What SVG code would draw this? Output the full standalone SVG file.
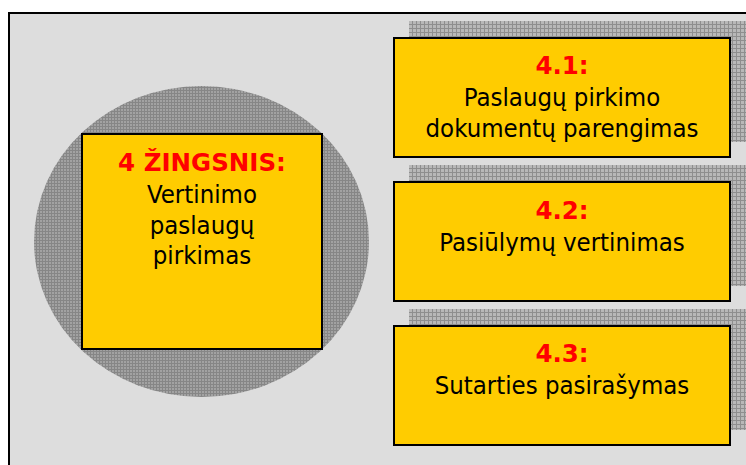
<svg xmlns="http://www.w3.org/2000/svg" width="746" height="465" viewBox="0 0 746 465">
<defs>
<pattern id="fine" width="3" height="3" patternUnits="userSpaceOnUse">
<rect width="3" height="3" fill="#a2a2a2"/>
<rect width="3" height="1" fill="#868686"/>
<rect width="1" height="3" fill="#868686"/>
</pattern>
<pattern id="grid" width="4" height="4" patternUnits="userSpaceOnUse">
<rect width="4" height="4" fill="#b8b8b8"/>
<rect width="4" height="1" fill="#8e8e8e"/>
<rect width="1" height="4" fill="#8e8e8e"/>
</pattern>
<style>
.box{fill:#FFCC00;stroke:#000;stroke-width:2}
.shadow{fill:url(#grid)}
.t{font-family:"DejaVu Sans Condensed","DejaVu Sans",sans-serif;font-size:25.5px;text-anchor:middle;fill:#000}
.h{font-family:"DejaVu Sans",sans-serif;font-size:24.5px;font-weight:bold;fill:#FF0000}
</style>
</defs>
<rect x="0" y="0" width="746" height="465" fill="#ffffff"/>
<rect x="9" y="13" width="750" height="470" fill="#DDDDDD" stroke="#000" stroke-width="2"/>
<ellipse cx="201.5" cy="241.5" rx="167.5" ry="155.5" fill="url(#fine)"/>
<g id="step4">
<rect class="box" x="82" y="134" width="240" height="215"/>
<text class="t h" x="202" y="171">4 ŽINGSNIS:</text>
<text class="t" x="202" y="203">Vertinimo</text>
<text class="t" x="202" y="234">paslaugų</text>
<text class="t" x="202" y="264">pirkimas</text>
</g>
<g id="step41">
<rect class="shadow" x="409" y="21" width="337" height="121"/>
<rect class="box" x="394" y="38" width="336" height="119"/>
<text class="t h" x="562" y="74">4.1:</text>
<text class="t" x="562" y="106">Paslaugų pirkimo</text>
<text class="t" x="562" y="137">dokumentų parengimas</text>
</g>
<g id="step42">
<rect class="shadow" x="409" y="165" width="337" height="121"/>
<rect class="box" x="394" y="182" width="336" height="119"/>
<text class="t h" x="562" y="219">4.2:</text>
<text class="t" x="562" y="251">Pasiūlymų vertinimas</text>
</g>
<g id="step43">
<rect class="shadow" x="409" y="309" width="337" height="121"/>
<rect class="box" x="394" y="326" width="336" height="119"/>
<text class="t h" x="562" y="362">4.3:</text>
<text class="t" x="562" y="394">Sutarties pasirašymas</text>
</g>
<g id="connectors"/>
</svg>
